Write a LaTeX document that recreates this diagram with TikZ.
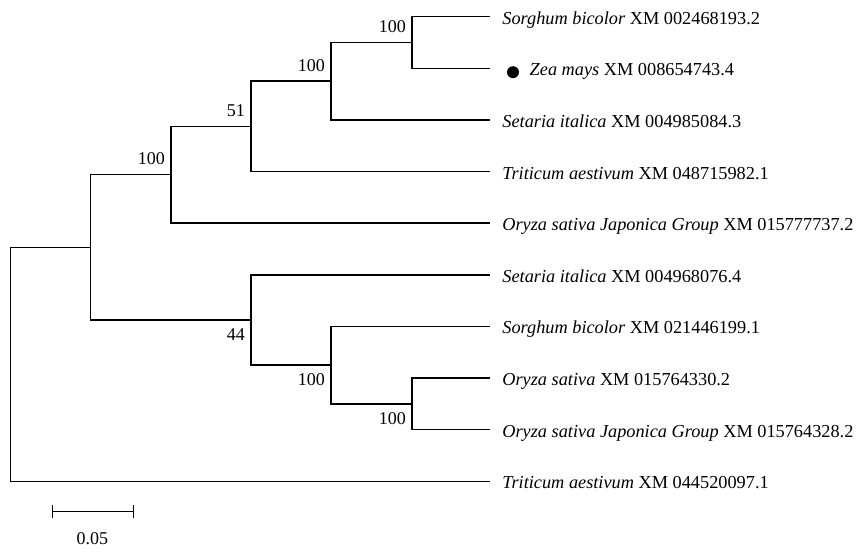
\documentclass[tikz,border=0pt]{standalone}
\usepackage{fontspec}
\setmainfont{Liberation Serif}
\usetikzlibrary{positioning}
\begin{document}
\begin{tikzpicture}[x=1pt,y=-1pt,line width=1.4pt,
	taxon/.style={anchor=west,inner sep=0,font=\fontsize{18.3}{22}\selectfont,
		text height=0.7em,text depth=0.25em},
	boot/.style={inner sep=0,font=\fontsize{18}{22}\selectfont,
		text height=0.7em,text depth=0pt},
	bootup/.style={boot,anchor=east,xshift=-5.5pt,yshift=13.5pt},
	bootdown/.style={boot,anchor=east,xshift=-5.5pt,yshift=-17pt}]
\useasboundingbox (0,0) rectangle (858,551);
% tip ends
\foreach \i/\y in {1/16.5,2/68.2,3/119.8,4/171.5,5/223.1,6/274.8,7/326.4,8/378.1,9/429.7,10/481.4}
	\coordinate (e\i) at (490,\y);
% internal nodes
\coordinate (na) at (412,42.3);
\coordinate (nb) at (331,81.1);
\coordinate (nc) at (251,126.3);
\coordinate (nd) at (171,174.7);
\coordinate (ne) at (251,319.9);
\coordinate (nf) at (331,365);
\coordinate (ng) at (412,403.9);
\coordinate (nh) at (90.5,247.3);
\coordinate (root) at (10.3,364.3);
% branches
\draw (na) |- (e1);
\draw (na) |- (e2);
\draw (nb) |- (na);
\draw (nb) |- (e3);
\draw (nc) |- (nb);
\draw (nc) |- (e4);
\draw (nd) |- (nc);
\draw (nd) |- (e5);
\draw (ng) |- (e8);
\draw (ng) |- (e9);
\draw (nf) |- (e7);
\draw (nf) |- (ng);
\draw (ne) |- (e6);
\draw (ne) |- (nf);
\draw (nh) |- (nd);
\draw (nh) |- (ne);
\draw (root) |- (nh);
\draw (root) |- (e10);
% taxa
\node[taxon] (t1) at ([xshift=11.7pt,yshift=-5.3pt]e1) {\textit{Sorghum bicolor} XM 002468193.2};
\node[circle,fill,inner sep=0,minimum size=12pt] (zdot) at ([xshift=23pt,yshift=-4pt]e2) {};
\node[taxon] (t2) at ([xshift=39pt,yshift=-5.3pt]e2) {\textit{Zea mays} XM 008654743.4};
\node[taxon] (t3) at ([xshift=11.7pt,yshift=-5.3pt]e3) {\textit{Setaria italica} XM 004985084.3};
\node[taxon] (t4) at ([xshift=11.7pt,yshift=-5.3pt]e4) {\textit{Triticum aestivum} XM 048715982.1};
\node[taxon] (t5) at ([xshift=11.7pt,yshift=-5.3pt]e5) {\textit{Oryza sativa Japonica Group} XM 015777737.2};
\node[taxon] (t6) at ([xshift=11.7pt,yshift=-5.3pt]e6) {\textit{Setaria italica} XM 004968076.4};
\node[taxon] (t7) at ([xshift=11.7pt,yshift=-5.3pt]e7) {\textit{Sorghum bicolor} XM 021446199.1};
\node[taxon] (t8) at ([xshift=11.7pt,yshift=-5.3pt]e8) {\textit{Oryza sativa} XM 015764330.2};
\node[taxon] (t9) at ([xshift=11.7pt,yshift=-5.3pt]e9) {\textit{Oryza sativa Japonica Group} XM 015764328.2};
\node[taxon] (t10) at ([xshift=11.7pt,yshift=-5.3pt]e10) {\textit{Triticum aestivum} XM 044520097.1};
% bootstrap values
\node[bootup] (ba) at (na) {100};
\node[bootup] (bb) at (nb) {100};
\node[bootup] (bc) at (nc) {51};
\node[bootup] (bd) at (nd) {100};
\node[bootdown] (be) at (ne) {44};
\node[bootdown] (bf) at (nf) {100};
\node[bootdown] (bg) at (ng) {100};
% scale bar
\coordinate (s1) at (52.7,511.7);
\coordinate (s2) at (133.7,511.7);
\draw (s1) -- (s2);
\draw ([yshift=6.5pt]s1) -- ([yshift=-6.5pt]s1);
\draw ([yshift=6.5pt]s2) -- ([yshift=-6.5pt]s2);
\node[boot] (sl) at (92.3,541) {0.05};
\end{tikzpicture}
\end{document}
